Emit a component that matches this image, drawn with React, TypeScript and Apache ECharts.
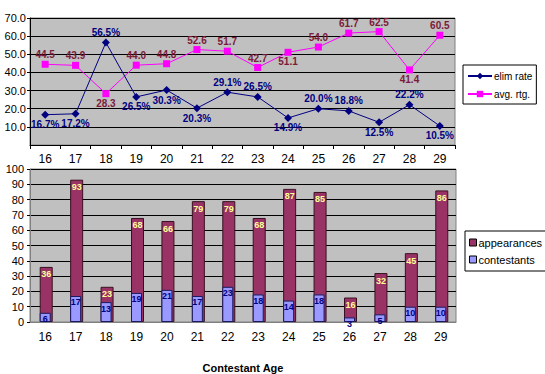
import React, { useEffect, useRef } from "react";
import * as echarts from "echarts";

const ages = ["16", "17", "18", "19", "20", "21", "22", "23", "24", "25", "26", "27", "28", "29"];
const elimRate = [16.7, 17.2, 56.5, 26.5, 30.3, 20.3, 29.1, 26.5, 14.9, 20.0, 18.8, 12.5, 22.2, 10.5];
const avgRating = [44.5, 43.9, 28.3, 44.0, 44.8, 52.6, 51.7, 42.7, 51.1, 54.0, 61.7, 62.5, 41.4, 60.5];
const appearances = [36, 93, 23, 68, 66, 79, 79, 68, 87, 85, 16, 32, 45, 86];
const contestants = [6, 17, 13, 19, 21, 17, 23, 18, 14, 18, 3, 5, 10, 10];
const elimLabelPlace = ["bottom", "bottom", "top", "bottom", "bottom", "bottom", "top", "top", "bottom", "top", "top", "bottom", "top", "bottom"];
const avgLabelPlace = ["top", "top", "bottom", "top", "top", "top", "top", "top", "bottom", "top", "top", "top", "bottom", "top"];

const FONT = "Arial, 'Liberation Sans', sans-serif";

export default function App() {
  const ref = useRef<HTMLDivElement>(null);
  useEffect(() => {
    document.body.style.margin = "0";
    const chart = echarts.init(ref.current!, null, { renderer: "svg" });
    const lineLabel = (color: string) => ({
      show: true,
      color,
      fontFamily: FONT,
      fontWeight: "bold" as const,
      fontSize: 10,
      distance: 1,
    });
    chart.setOption({
      animation: false,
      backgroundColor: "#ffffff",
      textStyle: { fontFamily: FONT },
      grid: [
        { left: 30, top: 18, width: 425, height: 127, show: true, backgroundColor: "#C0C0C0", borderColor: "#808080", borderWidth: 1 },
        { left: 30, top: 169, width: 426, height: 157, show: true, backgroundColor: "#C0C0C0", borderColor: "#808080", borderWidth: 1 },
      ],
      legend: [
        {
          data: ["elim rate", "avg. rtg."],
          orient: "vertical",
          left: 463,
          top: 65,
          itemWidth: 24,
          itemHeight: 8,
          itemGap: 8,
          padding: [6, 4, 5, 4],
          borderColor: "#000",
          borderWidth: 1,
          backgroundColor: "#fff",
          textStyle: { fontSize: 10, color: "#000", fontFamily: FONT, padding: [0, 0, 0, -3] },
        },
        {
          data: ["appearances", "contestants"],
          orient: "vertical",
          left: 465,
          top: 231,
          itemWidth: 7,
          itemHeight: 7,
          itemGap: 6,
          padding: [6, 4, 6, 4],
          icon: "rect",
          borderColor: "#000",
          borderWidth: 1,
          backgroundColor: "#fff",
          itemStyle: { borderColor: "#000", borderWidth: 1 },
          textStyle: { fontSize: 11, color: "#000", fontFamily: FONT, padding: [0, 0, 0, -3] },
        },
      ],
      xAxis: [
        {
          type: "category",
          gridIndex: 0,
          data: ages,
          boundaryGap: true,
          axisLine: { lineStyle: { color: "#000" } },
          axisTick: { show: true, length: 4, lineStyle: { color: "#000" } },
          axisLabel: { color: "#000", fontSize: 12, margin: 8, fontFamily: FONT },
        },
        {
          type: "category",
          gridIndex: 1,
          data: ages,
          name: "Contestant Age",
          nameLocation: "middle",
          nameGap: 40,
          nameTextStyle: { fontWeight: "bold", fontSize: 11, color: "#000", fontFamily: FONT },
          axisLine: { lineStyle: { color: "#808080" } },
          axisTick: { show: false },
          axisLabel: { color: "#000", fontSize: 12, margin: 9, fontFamily: FONT },
        },
      ],
      yAxis: [
        {
          type: "value",
          gridIndex: 0,
          min: 0,
          max: 70,
          interval: 10,
          axisLine: { show: true, lineStyle: { color: "#000" } },
          axisTick: { show: true, length: 3, lineStyle: { color: "#000" } },
          splitLine: { lineStyle: { color: "#000", width: 1 } },
          axisLabel: { color: "#000", fontSize: 11, margin: 4, showMinLabel: false, formatter: (v: number) => v.toFixed(1), fontFamily: FONT },
        },
        {
          type: "value",
          gridIndex: 1,
          min: 0,
          max: 100,
          interval: 10,
          axisLine: { show: true, lineStyle: { color: "#808080" } },
          axisTick: { show: true, length: 3, lineStyle: { color: "#000" } },
          splitLine: { lineStyle: { color: "#000", width: 1 } },
          axisLabel: { color: "#000", fontSize: 11, margin: 6, fontFamily: FONT },
        },
      ],
      series: [
        {
          name: "elim rate",
          type: "line",
          xAxisIndex: 0,
          yAxisIndex: 0,
          data: elimRate.map((v, i) => ({ value: v, label: { position: elimLabelPlace[i] } })),
          symbol: "diamond",
          symbolSize: 8,
          lineStyle: { color: "#000080", width: 1 },
          itemStyle: { color: "#000080" },
          label: { ...lineLabel("#000080"), formatter: (p: any) => p.value.toFixed(1) + "%" },
          z: 3,
        },
        {
          name: "avg. rtg.",
          type: "line",
          xAxisIndex: 0,
          yAxisIndex: 0,
          data: avgRating.map((v, i) => ({ value: v, label: { position: avgLabelPlace[i] } })),
          symbol: "rect",
          symbolSize: 7,
          lineStyle: { color: "#FF00FF", width: 1 },
          itemStyle: { color: "#FF00FF" },
          label: { ...lineLabel("#7B1B3A"), formatter: (p: any) => p.value.toFixed(1) },
          z: 2,
        },
        {
          name: "appearances",
          type: "bar",
          xAxisIndex: 1,
          yAxisIndex: 1,
          data: appearances,
          barWidth: 13,
          barGap: "-100%",
          itemStyle: { color: "#993366", borderColor: "#3a1020", borderWidth: 1 },
          label: {
            show: true,
            position: "insideTop",
            distance: 3,
            color: "#FFFF99",
            fontSize: 9,
            fontWeight: "bold",
            fontFamily: FONT,
          },
          z: 2,
        },
        {
          name: "contestants",
          type: "bar",
          xAxisIndex: 1,
          yAxisIndex: 1,
          data: contestants,
          barWidth: 11,
          barGap: "-100%",
          itemStyle: { color: "#9999FF", borderColor: "#1a1a60", borderWidth: 1 },
          label: {
            show: true,
            position: "insideTop",
            distance: 2,
            color: "#000080",
            fontSize: 9,
            fontWeight: "bold",
            fontFamily: FONT,
          },
          z: 3,
        },
      ],
    });
    return () => chart.dispose();
  }, []);
  return <div ref={ref} style={{ width: 545, height: 374 }} />;
}
